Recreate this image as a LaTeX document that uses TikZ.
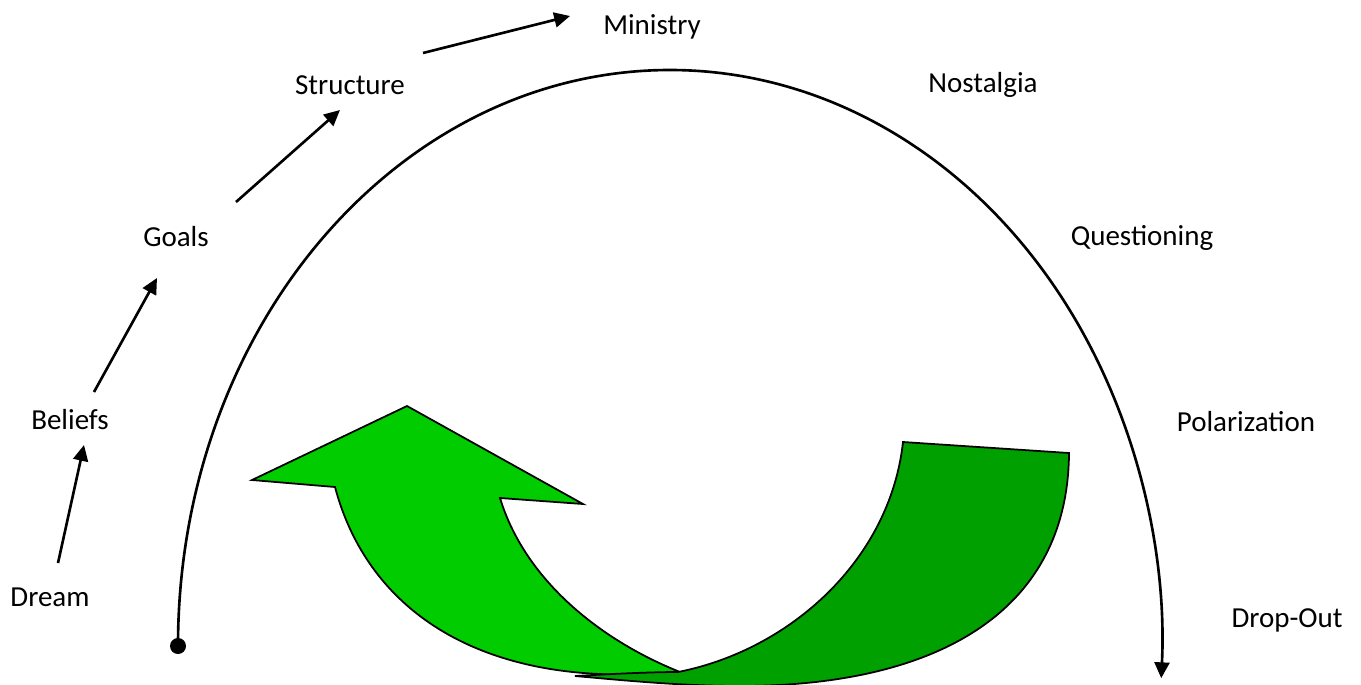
\documentclass[tikz,border=0pt]{standalone}
\usepackage{fontspec}
\setmainfont{Carlito}
\usetikzlibrary{arrows.meta}
\definecolor{lightgrn}{HTML}{00CC00}
\definecolor{darkgrn}{HTML}{00A000}
\begin{document}
\begin{tikzpicture}[x=0.02cm,y=0.02cm,
  lbl/.style={font=\fontsize{16.5}{20}\selectfont, inner sep=0pt},
  flow/.style={line width=1.5pt,-{Triangle[length=9pt,width=8.5pt]}},
  greenshape/.style={draw=black,line width=1pt,line join=miter}]
\useasboundingbox (0,0) rectangle (1361,-684);

% labels
\node[lbl] (ministry) at (652,-27) {Ministry};
\node[lbl] (structure) at (350,-85) {Structure};
\node[lbl] (nostalgia) at (983,-85) {Nostalgia};
\node[lbl] (goals) at (176,-237) {Goals};
\node[lbl] (questioning) at (1142,-238) {Questioning};
\node[lbl] (beliefs) at (70,-420) {Beliefs};
\node[lbl] (polarization) at (1246,-422) {Polarization};
\node[lbl] (dream) at (50,-597) {Dream};
\node[lbl] (dropout) at (1287,-620) {Drop-Out};

% small arrows
\coordinate (a1s) at (58,-563);  \coordinate (a1e) at (84,-445);
\coordinate (a2s) at (94,-392);  \coordinate (a2e) at (157,-278);
\coordinate (a3s) at (236,-202); \coordinate (a3e) at (340,-110);
\coordinate (a4s) at (423,-53);  \coordinate (a4e) at (570,-16);
\draw[flow] (a1s) -- (a1e);
\draw[flow] (a2s) -- (a2e);
\draw[flow] (a3s) -- (a3e);
\draw[flow] (a4s) -- (a4e);

% green arrows
\filldraw[greenshape, fill=lightgrn]
  (407,-406) -- (583,-504) -- (500,-498)
  .. controls (525,-580) and (600,-640) .. (680,-672)
  -- (680,-679) -- (600,-674)
  .. controls (460,-668) and (365,-600) .. (335,-487)
  -- (252,-480) -- cycle;
\filldraw[greenshape, fill=darkgrn]
  (903,-442) -- (1069,-453)
  .. controls (1068,-610) and (940,-686) .. (740,-686)
  .. controls (680,-686) and (620,-680) .. (575,-676)
  .. controls (610,-674) and (650,-672) .. (678,-672)
  .. controls (790,-650) and (890,-560) .. (903,-442) -- cycle;

% big arc
\coordinate (arcstart) at (178,-646);
\fill (arcstart) circle[radius=8];
\draw[line width=1.5pt,-{Triangle[length=9pt,width=8.5pt]}]
  (arcstart) arc[start angle=180, end angle=-3.2, x radius=492, y radius=576];
\end{tikzpicture}
\end{document}
